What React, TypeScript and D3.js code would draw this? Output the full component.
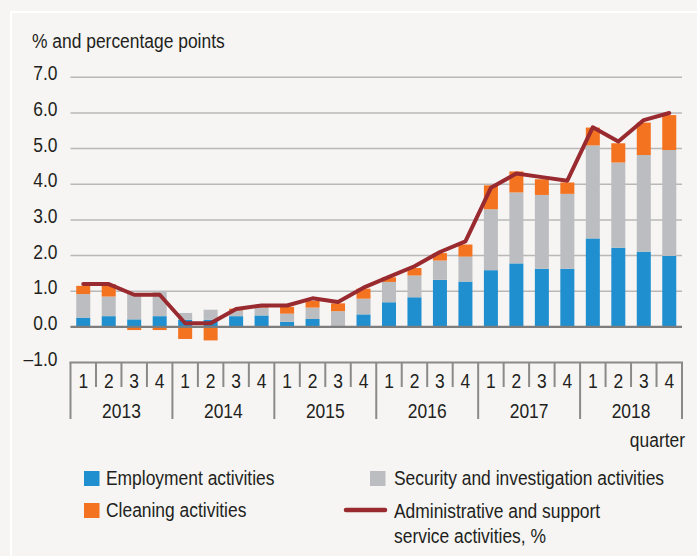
import React from "react";
import * as d3 from "d3";

const years = ["2013", "2014", "2015", "2016", "2017", "2018"];
const quarters = ["1", "2", "3", "4"];
const categories = years.flatMap((y) => quarters.map((q) => `${y}Q${q}`));

const employment = [0.26, 0.3, 0.21, 0.3, 0.2, 0.2, 0.3, 0.32, 0.14, 0.22, 0.0, 0.35, 0.69, 0.83, 1.32, 1.27, 1.59, 1.78, 1.63, 1.63, 2.48, 2.22, 2.11, 1.99];
const security = [0.66, 0.55, 0.73, 0.7, 0.19, 0.28, 0.16, 0.22, 0.23, 0.32, 0.44, 0.44, 0.57, 0.61, 0.54, 0.7, 1.71, 1.99, 2.07, 2.1, 2.61, 2.39, 2.71, 2.97];
const cleaning = [0.23, 0.35, -0.09, -0.09, -0.34, -0.38, 0.05, 0.03, 0.19, 0.19, 0.22, 0.28, 0.13, 0.21, 0.21, 0.34, 0.67, 0.59, 0.44, 0.32, 0.5, 0.54, 0.91, 0.98];
const adminTotal = [1.2, 1.2, 0.9, 0.9, 0.1, 0.1, 0.5, 0.6, 0.6, 0.8, 0.7, 1.1, 1.4, 1.7, 2.1, 2.4, 3.9, 4.3, 4.2, 4.1, 5.6, 5.2, 5.8, 6.0];

const yTicks = [-1, 0, 1, 2, 3, 4, 5, 6, 7];
const seriesKeys = ["employment", "security", "cleaning"];
const seriesLabels = ["Employment activities", "Security and investigation activities", "Cleaning activities"];
const lineLabel = ["Administrative and support", "service activities, %"];
const titleText = "% and percentage points";
const xAxisTitle = "quarter";

const COLORS: Record<string, string> = {
  employment: "#1f8fcf",
  security: "#bcbdc0",
  cleaning: "#f47321",
};
const LINE_COLOR = "#992a2f";
const BG = "#f6f5f3";
const TEXT = "#231f20";
const FONT = "'Liberation Sans', Arial, sans-serif";
const FS = 21;
const SX = 0.83;

function NText({ x, y, anchor = "start", children }: { x: number; y: number; anchor?: string; children: React.ReactNode }) {
  return (
    <g transform={`translate(${x},${y}) scale(${SX},1)`}>
      <text x={0} y={0} textAnchor={anchor} fontFamily={FONT} fontSize={FS} fill={TEXT}>
        {children}
      </text>
    </g>
  );
}

export default function App() {
  const W = 697;
  const H = 556;
  const left = 70.5;
  const right = 682;
  const yTop = 77.3;
  const yBot = 362.5;

  const x = d3.scaleBand<string>().domain(categories).range([left, right]).paddingInner(0.45).paddingOuter(0.225);
  const xc = d3.scaleBand<string>().domain(categories).range([left, right]);
  const y = d3.scaleLinear().domain([-1, 7]).range([yBot, yTop]);

  const table = categories.map((c, i) => ({
    cat: c,
    employment: employment[i],
    security: security[i],
    cleaning: cleaning[i],
  }));
  const stacked = d3.stack<any>().keys(seriesKeys).offset(d3.stackOffsetDiverging)(table);

  const line = d3
    .line<number>()
    .x((_, i) => (xc(categories[i]) as number) + xc.bandwidth() / 2)
    .y((d) => y(d));

  const yearW = (right - left) / years.length;
  const qTickBottom = 387;
  const yearTickBottom = 419;

  return (
    <svg width={W} height={H} style={{ position: "absolute", left: 0, top: 0, display: "block" }}>
      <rect x={0} y={0} width={W} height={H} fill={BG} />
      <line x1={10} y1={12} x2={W} y2={12} stroke="#ffffff" strokeWidth={2} />
      <line x1={11} y1={12} x2={11} y2={H} stroke="#ffffff" strokeWidth={2} />

      <NText x={32} y={48}>{titleText}</NText>

      {/* gridlines */}
      {yTicks.filter((t) => t > 0).map((t) => (
        <line key={t} x1={left} x2={right} y1={y(t)} y2={y(t)} stroke="#b8b8b8" strokeWidth={1.5} />
      ))}

      {/* y tick labels */}
      {yTicks.map((t) => (
        <NText key={t} x={57.5} y={y(t) + 3} anchor="end">
          {t < 0 ? `\u2013${Math.abs(t).toFixed(1)}` : t.toFixed(1)}
        </NText>
      ))}

      {/* bars */}
      {stacked.map((s) => (
        <g key={s.key} fill={COLORS[s.key]}>
          {s.map((d, i) => {
            const y0 = y(d[0]);
            const y1 = y(d[1]);
            const h = Math.abs(y0 - y1);
            if (h < 0.01) return null;
            return <rect key={i} x={x(categories[i])} width={x.bandwidth()} y={Math.min(y0, y1)} height={h} />;
          })}
        </g>
      ))}

      {/* zero line */}
      <line x1={left} x2={right} y1={y(0)} y2={y(0)} stroke="#7d7d7d" strokeWidth={2.2} />

      {/* total line */}
      <path d={line(adminTotal) || ""} fill="none" stroke={LINE_COLOR} strokeWidth={4} strokeLinejoin="round" strokeLinecap="round" />

      {/* x axis box */}
      <line x1={left - 1} x2={right + 1} y1={yBot} y2={yBot} stroke="#8a8a8a" strokeWidth={2} />
      {categories.map((c, i) =>
        i % 4 === 0 ? null : (
          <line key={c} x1={xc(c)} x2={xc(c)} y1={yBot} y2={qTickBottom} stroke="#8a8a8a" strokeWidth={2} />
        )
      )}
      {d3.range(years.length + 1).map((k) => (
        <line key={k} x1={left + k * yearW} x2={left + k * yearW} y1={yBot} y2={yearTickBottom} stroke="#8a8a8a" strokeWidth={2} />
      ))}
      {categories.map((c, i) => (
        <NText key={c} x={(xc(c) as number) + xc.bandwidth() / 2} y={388} anchor="middle">
          {quarters[i % 4]}
        </NText>
      ))}
      {years.map((yr, k) => (
        <NText key={yr} x={left + (k + 0.5) * yearW} y={418} anchor="middle">
          {yr}
        </NText>
      ))}
      <NText x={685} y={447} anchor="end">{xAxisTitle}</NText>

      {/* legend */}
      <rect x={84} y={471} width={15.5} height={15} fill={COLORS.employment} />
      <NText x={106} y={485}>{seriesLabels[0]}</NText>
      <rect x={370} y={471} width={15.5} height={15} fill={COLORS.security} />
      <NText x={394} y={485}>{seriesLabels[1]}</NText>
      <rect x={84} y={503} width={15.5} height={15} fill={COLORS.cleaning} />
      <NText x={106} y={517}>{seriesLabels[2]}</NText>
      <line x1={346} x2={385} y1={510} y2={510} stroke={LINE_COLOR} strokeWidth={4.5} strokeLinecap="round" />
      <NText x={394} y={518}>{lineLabel[0]}</NText>
      <NText x={394} y={543}>{lineLabel[1]}</NText>
    </svg>
  );
}
